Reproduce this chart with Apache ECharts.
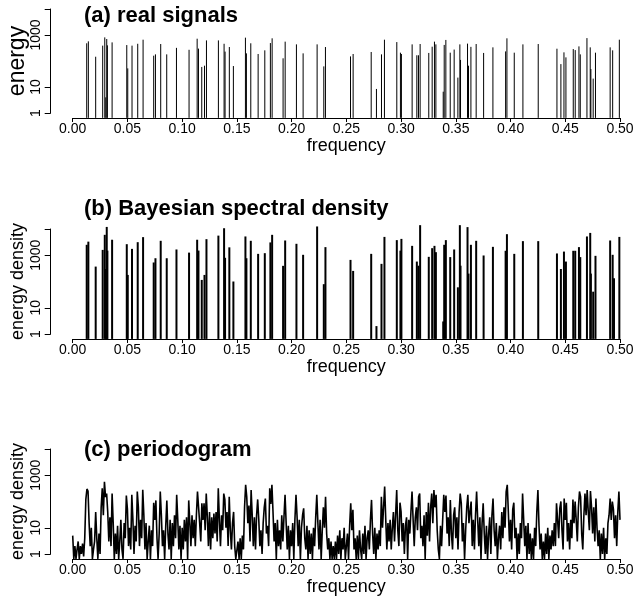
<!DOCTYPE html>
<html>
<head>
<meta charset="utf-8">
<script src="https://cdn.jsdelivr.net/npm/echarts@6/dist/echarts.min.js"></script>
<style>
  html, body { margin: 0; padding: 0; background: #fff; }
  #chart { width: 634px; height: 600px; }
</style>
</head>
<body>
<div id="chart"></div>
<script>
// spike frequencies shared by panels (a) and (b)
const spikeFreq = [
  0.0128, 0.0143, 0.0210, 0.0274, 0.0293, 0.0302, 0.0311, 0.0317, 0.0360, 0.0494,
  0.0503, 0.0542, 0.0594, 0.0643, 0.0740, 0.0756, 0.0804, 0.0859, 0.0948, 0.1063,
  0.1137, 0.1149, 0.1179, 0.1204, 0.1222, 0.1331, 0.1383, 0.1392, 0.1431, 0.1468,
  0.1578, 0.1587, 0.1627, 0.1694, 0.1755, 0.1806, 0.1822, 0.1922, 0.1941, 0.2044,
  0.2105, 0.2233, 0.2294, 0.2309, 0.2538, 0.2562, 0.2727, 0.2775, 0.2821, 0.2848,
  0.2961, 0.2994, 0.3003, 0.3101, 0.3144, 0.3159, 0.3174, 0.3253, 0.3284, 0.3305,
  0.3318, 0.3385, 0.3394, 0.3409, 0.3449, 0.3485, 0.3519, 0.3537, 0.3543, 0.3607,
  0.3616, 0.3638, 0.3686, 0.3754, 0.3839, 0.3955, 0.3967, 0.4034, 0.4113, 0.4253,
  0.4424, 0.4460, 0.4488, 0.4506, 0.4573, 0.4591, 0.4625, 0.4637, 0.4698, 0.4728,
  0.4734, 0.4755, 0.4776, 0.4910, 0.4933, 0.4945, 0.4994
];
// (a) energy of the real signals
const realEnergy = [
  480, 570, 146, 390, 810, 4, 700, 400, 520, 410,
  52, 390, 460, 660, 160, 180, 450, 180, 320, 270,
  720, 300, 59, 66, 620, 620, 460, 230, 345, 64,
  790, 197, 480, 186, 257, 490, 745, 127, 555, 436,
  197, 436, 62, 345, 150, 186, 222, 8.4, 180, 660,
  535, 209, 186, 436, 166, 166, 450, 204, 355, 555,
  436, 6.6, 415, 645, 209, 275, 23, 436, 110, 466,
  66, 350, 450, 204, 335, 234, 745, 209, 436, 450,
  297, 76, 215, 138, 288, 263, 365, 180, 760, 335,
  49, 21, 209, 335, 257, 0.65, 660
];
// (b) Bayesian spectral density
const bayesDensity = [
  2500, 3300, 370, 1600, 6000, 300, 12000, 1500, 3900, 2640,
  178, 1750, 3150, 4900, 530, 770, 3550, 770, 1660, 1260,
  3900, 1510, 115, 178, 4100, 5600, 10700, 800, 2000, 100,
  5200, 770, 3550, 1130, 1200, 3080, 6000, 395, 3650, 2730,
  1040, 12500, 79, 2040, 665, 253, 1130, 2, 470, 5000,
  3770, 1500, 4200, 2280, 575, 400, 14000, 870, 1860, 2280,
  1310, 3, 2500, 3770, 850, 1660, 60, 14000, 400, 11800,
  200, 2500, 3550, 980, 2090, 1480, 6350, 1130, 3450, 3450,
  1170, 300, 1380, 575, 1480, 1480, 2040, 850, 5200, 7100,
  200, 41, 950, 3650, 1040, 133, 5000
];
// (c) periodogram, one value per frequency step of 0.001 from 0 to 0.5
const periodogram = [
  5, 0.65, 2, 0.65, 1.5, 3, 0.65, 2, 1, 2.5,
  0.8, 4, 120, 300, 250, 15, 2, 10, 0.65, 1.5,
  3, 40, 4, 0.65, 6, 1, 60, 320, 30, 560,
  150, 200, 40, 3, 25, 2, 200, 15, 0.65, 6,
  1, 12, 0.65, 3, 20, 1.5, 0.65, 15, 4, 170,
  50, 2, 10, 1.5, 180, 20, 1, 12, 3, 240,
  60, 2, 20, 4, 280, 30, 1.5, 15, 0.65, 3,
  12, 0.65, 8, 2, 90, 20, 110, 4, 0.65, 6,
  240, 30, 2, 8, 0.65, 12, 110, 6, 1.5, 20,
  0.65, 15, 2, 30, 4, 180, 20, 1.5, 12, 0.65,
  10, 1.5, 20, 3, 25, 0.65, 110, 15, 2, 30,
  4, 20, 2, 30, 240, 60, 15, 3, 85, 20,
  85, 8, 200, 25, 2, 40, 1.5, 25, 4, 35,
  6, 40, 3, 320, 20, 2, 30, 8, 200, 120,
  10, 40, 2, 150, 8, 1.5, 15, 40, 2, 0.65,
  0.65, 3, 0.65, 4, 0.65, 5, 1.5, 60, 430, 150,
  15, 70, 3, 275, 30, 2, 25, 1.5, 30, 120,
  20, 2, 8, 1, 15, 60, 130, 6, 12, 2,
  320, 80, 430, 40, 3, 15, 0.65, 20, 2, 8,
  1.5, 30, 3, 25, 180, 15, 1.5, 12, 0.65, 8,
  2, 15, 0.65, 20, 180, 25, 2, 20, 0.65, 10,
  30, 55, 4, 1.5, 12, 0.65, 8, 1, 6, 0.65,
  10, 2, 25, 180, 15, 1.5, 20, 0.65, 8, 60,
  10, 150, 6, 1.5, 4, 0.65, 3, 0.65, 2, 0.65,
  3, 0.65, 5, 1, 8, 0.65, 4, 1.5, 10, 0.65,
  2, 6, 0.65, 12, 85, 8, 48, 1.5, 4, 0.65,
  5, 0.65, 8, 1.5, 0.65, 6, 1, 12, 0.65, 4,
  8, 1.5, 20, 115, 6, 1, 10, 0.65, 6, 1.5,
  8, 2, 150, 10, 60, 370, 20, 1.5, 15, 3,
  20, 1.5, 10, 40, 3, 30, 275, 8, 2, 90,
  40, 3, 15, 1, 12, 25, 0.65, 20, 6, 40,
  240, 20, 2, 25, 60, 8, 150, 200, 4, 12,
  2, 30, 0.65, 40, 5, 90, 3, 60, 200, 15,
  275, 60, 180, 8, 1.5, 0.65, 12, 2, 20, 180,
  40, 170, 6, 25, 2, 115, 6, 1.5, 30, 60,
  4, 25, 1.5, 40, 200, 85, 3, 15, 0.65, 8,
  60, 180, 15, 40, 100, 2, 20, 1.5, 30, 240,
  20, 2, 25, 0.65, 15, 85, 6, 1, 12, 0.65,
  6, 25, 1, 30, 130, 8, 2, 15, 0.65, 4,
  12, 1.5, 40, 4, 60, 10, 240, 430, 40, 3,
  20, 1.5, 50, 90, 4, 10, 0.65, 6, 1, 15,
  4, 200, 20, 2, 12, 0.65, 15, 1, 6, 0.65,
  4, 0.65, 10, 2, 40, 275, 12, 1.5, 6, 0.65,
  3, 0.65, 6, 1, 10, 0.65, 5, 1.5, 8, 2,
  15, 2, 85, 20, 4, 55, 100, 8, 1.5, 130,
  20, 90, 3, 15, 1.5, 20, 4, 120, 15, 100,
  20, 3, 60, 240, 150, 6, 1.5, 30, 200, 30,
  275, 40, 8, 250, 60, 6, 60, 3, 130, 10,
  2, 8, 0.65, 6, 1, 10, 0.65, 4, 1, 15,
  30, 130, 20, 100, 50, 4, 30, 2, 40, 240,
  20
];
const periodStep = 0.001;

const FONT = 'Liberation Sans, Arial, Helvetica, sans-serif';
const BASE = 0.65; // bottom of the plotting region (log axis, below 1)

const chart = echarts.init(document.getElementById('chart'));

function spikePairs(values) {
  return spikeFreq.map((f, i) => [f, values[i]]);
}

function spikeSeries(idx, values, lw) {
  return {
    type: 'custom',
    xAxisIndex: idx,
    yAxisIndex: idx,
    clip: false,
    data: spikePairs(values),
    renderItem(params, api) {
      const top = api.coord([api.value(0), api.value(1)]);
      const bot = api.coord([api.value(0), BASE]);
      return {
        type: 'line',
        shape: { x1: top[0], y1: top[1], x2: bot[0], y2: bot[1] },
        style: { stroke: '#000', lineWidth: lw }
      };
    }
  };
}

const grids = [
  { left: 72.7, right: 14, top: 9, height: 104, outerBoundsMode: 'none', containLabel: false },
  { left: 72.7, right: 14, top: 229, height: 105, outerBoundsMode: 'none', containLabel: false },
  { left: 72.7, right: 14, top: 449, height: 105, outerBoundsMode: 'none', containLabel: false }
];

function xAxis(idx) {
  return {
    type: 'value',
    gridIndex: idx,
    min: 0, max: 0.5, interval: 0.05,
    offset: 5,
    name: 'frequency',
    nameLocation: 'middle',
    nameGap: 19,
    nameMoveOverlap: false,
    nameTextStyle: { fontFamily: FONT, fontSize: 18, color: '#000', verticalAlign: 'top' },
    axisLine: { onZero: false, lineStyle: { color: '#000', width: 1 } },
    axisTick: { length: 4, lineStyle: { color: '#000' } },
    axisLabel: {
      margin: 4, fontFamily: FONT, fontSize: 14, color: '#000',
      formatter: v => v.toFixed(2)
    },
    splitLine: { show: false }
  };
}

function yAxis(idx, name, nameSize, nameGap) {
  return {
    type: 'log',
    logBase: 10,
    gridIndex: idx,
    min: 1, max: 10000,
    offset: 22,
    name: name,
    nameLocation: 'middle',
    nameGap: nameGap,
    nameRotate: 90,
    nameMoveOverlap: false,
    nameTextStyle: { fontFamily: FONT, fontSize: nameSize, color: '#000' },
    axisLine: { show: true, onZero: false, lineStyle: { color: '#000', width: 1 } },
    axisTick: { show: true, length: 6, customValues: [1, 10, 1000, 10000], lineStyle: { color: '#000' } },
    axisLabel: {
      rotate: 90, margin: 8, fontFamily: FONT, fontSize: 14, color: '#000',
      customValues: [1, 10, 1000],
      formatter: v => String(Math.round(v))
    },
    splitLine: { show: false }
  };
}

const titles = [
  { text: '(a) real signals', top: 5 },
  { text: '(b) Bayesian spectral density', top: 198 },
  { text: '(c) periodogram', top: 439 }
].map(t => ({
  text: t.text, left: 84, top: t.top, padding: 0,
  textStyle: { fontFamily: FONT, fontSize: 22, fontWeight: 'bold', color: '#000' }
}));

const option = {
  backgroundColor: '#fff',
  animation: false,
  title: titles,
  grid: grids,
  xAxis: [xAxis(0), xAxis(1), xAxis(2)],
  yAxis: [
    yAxis(0, 'energy', 23, 22),
    yAxis(1, 'energy density', 18, 24),
    yAxis(2, 'energy density', 18, 24)
  ],
  series: [
    spikeSeries(0, realEnergy, 1),
    spikeSeries(1, bayesDensity, 2),
    {
      type: 'line',
      xAxisIndex: 2,
      yAxisIndex: 2,
      clip: false,
      showSymbol: false,
      symbol: 'none',
      lineStyle: { color: '#000', width: 1.6 },
      data: periodogram.map((v, i) => [i * periodStep, v])
    }
  ]
};

chart.setOption(option);
</script>
</body>
</html>
